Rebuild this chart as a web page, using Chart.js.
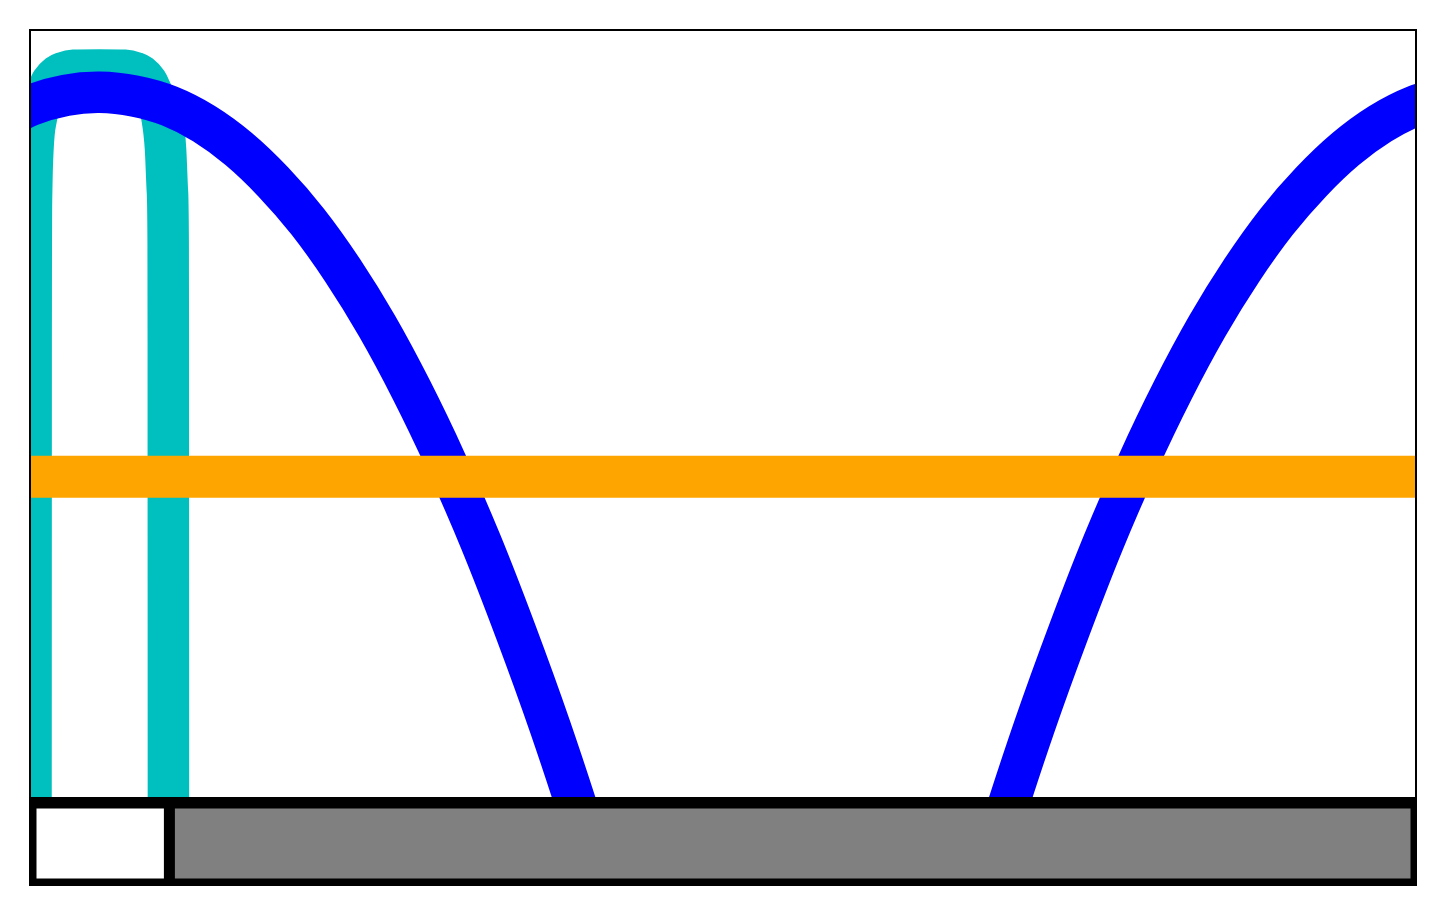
<!DOCTYPE html>
<html>
<head>
<meta charset="utf-8">
<script src="https://cdn.jsdelivr.net/npm/chart.js@4.4.1/dist/chart.umd.min.js"></script>
<style>
  html, body { margin: 0; padding: 0; background: #ffffff; }
  #wrap { position: relative; width: 1446px; height: 914px; }
  canvas { position: absolute; left: 0; top: 0; }
</style>
</head>
<body>
<div id="wrap">
  <canvas id="main" width="1446" height="914"></canvas>
  <canvas id="strip" width="1446" height="914"></canvas>
</div>
<script>
// ---- data (x runs 0..1 across the plot, y runs 0..1 bottom..top) ----
const blueX = [-0.025, 0.000, 0.025, 0.0495, 0.075, 0.100, 0.125, 0.150, 0.175, 0.200, 0.225, 0.250, 0.275, 0.300, 0.325, 0.350, 0.375, 0.400, 0.425, 0.450, 0.550, 0.650, 0.675, 0.700, 0.725, 0.750, 0.775, 0.800, 0.825, 0.850, 0.875, 0.900, 0.925, 0.950, 0.975, 1.000, 1.025];
const blueY = [0.880, 0.903, 0.916, 0.920, 0.915, 0.902, 0.879, 0.846, 0.803, 0.751, 0.688, 0.615, 0.531, 0.437, 0.333, 0.217, 0.092, -0.045, -0.192, -0.350, -1.087, -0.350, -0.192, -0.045, 0.092, 0.217, 0.333, 0.437, 0.531, 0.615, 0.688, 0.751, 0.803, 0.846, 0.879, 0.902, 0.915];

const cyanX = [-0.0004, 0.0000, 0.0001, 0.0002, 0.0005, 0.0014, 0.0039, 0.0083, 0.0120, 0.0149, 0.0198, 0.0235, 0.0307, 0.0493, 0.0679, 0.0751, 0.0788, 0.0837, 0.0866, 0.0903, 0.0947, 0.0972, 0.0985, 0.0991, 0.0992, 0.0993, 0.0994];
const cyanY = [-0.30, 0.00, 0.5966, 0.7272, 0.7924, 0.846, 0.8864, 0.9072, 0.9227, 0.9332, 0.9426, 0.9458, 0.9487, 0.9491, 0.9487, 0.9458, 0.9426, 0.9332, 0.9227, 0.9072, 0.8864, 0.846, 0.7924, 0.7272, 0.5966, 0.00, -0.30];

const orangeX = [0, 1];
const orangeY = [0.418, 0.418];

const stripLabels = [''];
const stripSegments = [[0, 0.1], [0.1, 1]];
const stripColors = ['#ffffff', '#808080'];

// ---- helpers ----
function pts(xs, ys) { return xs.map((x, i) => ({ x: x, y: ys[i] })); }

const framePlugin = {
  id: 'frame',
  afterDraw(chart) {
    const a = chart.chartArea, ctx = chart.ctx;
    ctx.save();
    ctx.strokeStyle = '#000000';
    ctx.lineWidth = 2;
    ctx.strokeRect(a.left - 1, a.top - 1, a.right - a.left + 2, a.bottom - a.top + 2);
    ctx.restore();
  }
};

const sideFramePlugin = {
  id: 'sideFrame',
  afterDraw(chart) {
    const a = chart.chartArea, ctx = chart.ctx;
    ctx.save();
    ctx.fillStyle = '#000000';
    ctx.fillRect(a.left - 2, a.top, 2, a.bottom - a.top);
    ctx.fillRect(a.right, a.top, 2, a.bottom - a.top);
    ctx.restore();
  }
};

const LW = 41.5;

new Chart(document.getElementById('main'), {
  type: 'line',
  data: {
    datasets: [
      { data: pts(orangeX, orangeY), borderColor: '#FFA500', borderWidth: 42, pointRadius: 0, clip: 0, borderCapStyle: 'butt', order: 1 },
      { data: pts(blueX, blueY), borderColor: '#0000FF', borderWidth: LW, pointRadius: 0, clip: 0, tension: 0.4, borderJoinStyle: 'round', order: 2 },
      { data: pts(cyanX, cyanY), borderColor: '#00BFBF', borderWidth: LW, pointRadius: 0, clip: 0, cubicInterpolationMode: 'monotone', borderJoinStyle: 'round', order: 3 }
    ]
  },
  options: {
    responsive: false,
    animation: false,
    devicePixelRatio: 1,
    layout: { padding: { left: 31, right: 31, top: 31, bottom: 117 } },
    plugins: { legend: { display: false }, tooltip: { enabled: false } },
    scales: {
      x: { type: 'linear', display: false,
           afterDataLimits: (s) => { s.min = 0; s.max = 1; } },
      y: { type: 'linear', min: 0, max: 1, display: false }
    }
  },
  plugins: [framePlugin]
});

new Chart(document.getElementById('strip'), {
  type: 'bar',
  data: {
    labels: stripLabels,
    datasets: [
      { data: [stripSegments[0]], backgroundColor: stripColors[0], borderColor: '#000000',
        borderWidth: { top: 12, bottom: 8, left: 6, right: 6 }, borderSkipped: false, grouped: false,
        barPercentage: 1, categoryPercentage: 1, inflateAmount: 0.5 },
      { data: [stripSegments[1]], backgroundColor: stripColors[1], borderColor: '#000000',
        borderWidth: { top: 12, bottom: 8, left: 6, right: 5 }, borderSkipped: false, grouped: false,
        barPercentage: 1, categoryPercentage: 1, inflateAmount: 0.5 }
    ]
  },
  options: {
    indexAxis: 'y',
    responsive: false,
    animation: false,
    devicePixelRatio: 1,
    layout: { padding: { left: 31, right: 31, top: 797, bottom: 28 } },
    plugins: { legend: { display: false }, tooltip: { enabled: false } },
    scales: {
      x: { type: 'linear', min: 0, max: 1, display: false },
      y: { type: 'category', display: false }
    }
  },
  plugins: [sideFramePlugin]
});
</script>
</body>
</html>
